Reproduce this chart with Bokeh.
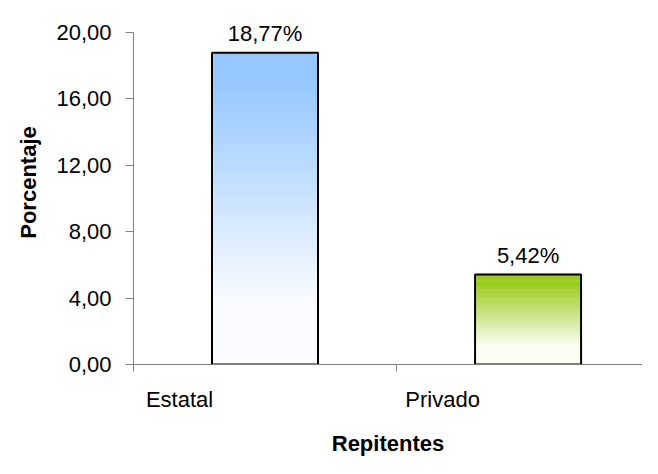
import numpy as np
from bokeh.plotting import figure
from bokeh.models import Range1d, FixedTicker, CustomJSTickFormatter
from bokeh.core.properties import value
from bokeh.embed import file_html
from bokeh.resources import INLINE

categories = ["Estatal", "Privado"]
values = [18.77, 5.42]
value_labels = ["18,77%", "5,42%"]
y_ticks = [0, 4, 8, 12, 16, 20]
x_title = "Repitentes"
y_title = "Porcentaje"
top_colors = [(150, 200, 255), (155, 204, 30)]
bottom_colors = [(250, 252, 255), (252, 253, 245)]

FONT = "Liberation Sans"
FS = "22px"

# frame: left 133, top 0, bottom 366 ; 20 -> y 32
p = figure(width=642, height=458, output_backend="svg", toolbar_location=None,
           x_range=Range1d(0, 1.935), y_range=Range1d(0, 21.92),
           min_border_left=133, min_border_right=0, min_border_top=0,
           min_border_bottom=92)
p.outline_line_color = None
p.xgrid.grid_line_color = None
p.ygrid.grid_line_color = None
p.background_fill_color = "white"
p.border_fill_color = "white"

bar_w = 0.403
N = 100
xs = [i + 0.5 for i in range(len(values))]
for i, v in enumerate(values):
    xc = xs[i]
    edges = np.linspace(0, v, N + 1)
    mids = (edges[:-1] + edges[1:]) / 2 / v
    tc = np.array(top_colors[i]); bc = np.array(bottom_colors[i])
    cols = []
    for f in mids:
        t = min(max((f - 0.2) / 0.7, 0.0), 1.0)
        c = bc + (tc - bc) * t
        cols.append("#%02x%02x%02x" % tuple(int(round(x)) for x in c))
    step = v / N
    tops = np.minimum(edges[1:] + step * 0.6, v)
    p.quad(left=xc - bar_w / 2, right=xc + bar_w / 2, bottom=edges[:-1], top=tops,
           fill_color=cols, line_color=None)

p.vbar(x=xs, width=bar_w, top=values, fill_color=None, line_color="black",
       line_width=2)

p.text(x=xs, y=values, text=value_labels, y_offset=-19, text_align="center",
       text_baseline="alphabetic", text_font=value(FONT), text_font_size=FS,
       text_color="black")

# x axis: tick marks at category boundaries (minor), labels placed left in each slot
label_pos = [i + 0.175 for i in range(len(categories))]
p.xaxis.ticker = FixedTicker(ticks=label_pos, minor_ticks=[0, 1, 2])
p.xaxis.major_label_overrides = {pos: c for pos, c in zip(label_pos, categories)}
p.xaxis.major_tick_line_color = None
p.xaxis.major_tick_in = 0
p.xaxis.major_tick_out = 7
p.xaxis.minor_tick_in = 0
p.xaxis.minor_tick_out = 7
p.xaxis.minor_tick_line_color = "#808080"
p.xaxis.axis_line_color = "#808080"
p.xaxis.major_label_standoff = 15
p.xaxis.major_label_text_font = FONT
p.xaxis.major_label_text_font_size = FS
p.xaxis.major_label_text_color = "black"
p.xaxis.axis_label = x_title
p.xaxis.axis_label_text_font = FONT
p.xaxis.axis_label_text_font_size = FS
p.xaxis.axis_label_text_font_style = "bold"
p.xaxis.axis_label_text_color = "black"
p.xaxis.axis_label_standoff = 16

p.yaxis.ticker = FixedTicker(ticks=y_ticks)
p.yaxis.bounds = (0, 20)
p.yaxis.formatter = CustomJSTickFormatter(code="return tick.toFixed(2).replace('.', ',');")
p.yaxis.major_tick_in = 0
p.yaxis.major_tick_out = 8
p.yaxis.major_label_standoff = 14
p.yaxis.minor_tick_line_color = None
p.yaxis.axis_line_color = "#808080"
p.yaxis.major_tick_line_color = "#808080"
p.yaxis.major_label_text_font = FONT
p.yaxis.major_label_text_font_size = FS
p.yaxis.major_label_text_color = "black"
p.yaxis.axis_label = y_title
p.yaxis.axis_label_text_font = FONT
p.yaxis.axis_label_text_font_size = FS
p.yaxis.axis_label_text_font_style = "bold"
p.yaxis.axis_label_text_color = "black"
p.yaxis.axis_label_standoff = 12

open("out.html", "w").write(file_html(p, INLINE))
